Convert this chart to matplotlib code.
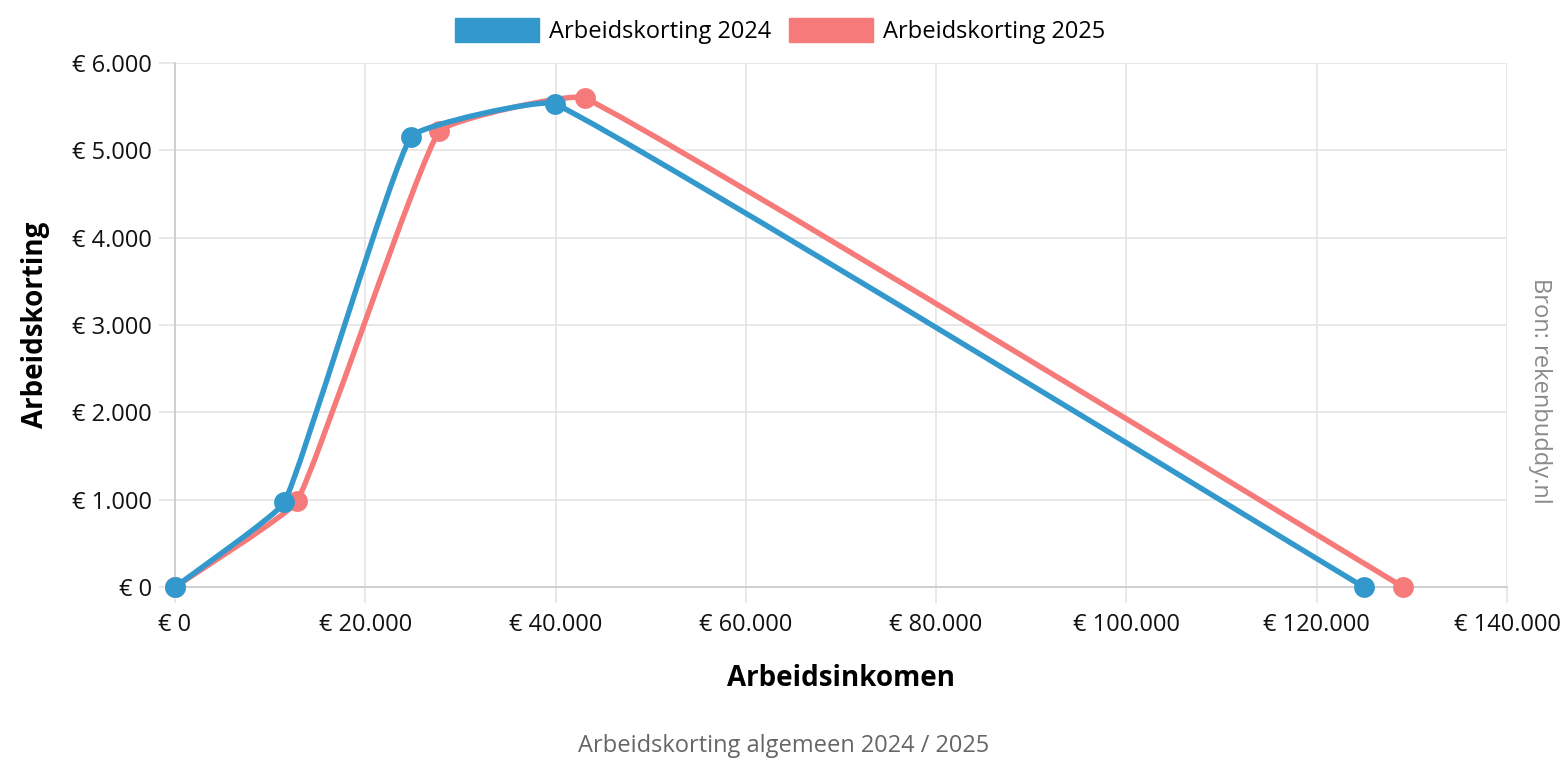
import matplotlib.pyplot as plt
import numpy as np
from matplotlib.path import Path
from matplotlib.patches import PathPatch, Patch
from matplotlib.ticker import FixedLocator, FuncFormatter

plt.rcParams['font.family'] = ['Open Sans', 'DejaVu Sans']

# data
inkomen_2024 = [0, 11490, 24820, 39957, 124934]
korting_2024 = [0, 968, 5158, 5532, 0]
inkomen_2025 = [0, 12820, 27780, 43070, 129080]
korting_2025 = [0, 980, 5220, 5599, 0]

x_ticks = [0, 20000, 40000, 60000, 80000, 100000, 120000, 140000]
y_ticks = [0, 1000, 2000, 3000, 4000, 5000, 6000]

BLUE = '#3399cc'
RED = '#f77a7a'
TENSION = 0.1

W, H = 1568, 784
fig = plt.figure(figsize=(W / 100, H / 100), dpi=100)
ax = fig.add_axes([175 / W, 1 - 587 / H, 1332 / W, 524 / H])
ax.set_xlim(0, 140000)
ax.set_ylim(0, 6000)

# pixels per data unit, the spline is worked out in screen space like chart.js does
sx = 1332 / 140000
sy = 524 / 6000


def spline_path(xs, ys, t=TENSION):
    pts = np.column_stack([np.asarray(xs) * sx, np.asarray(ys) * sy])
    n = len(pts)
    cps_prev, cps_next = [], []
    for i in range(n):
        cur = pts[i]
        prev = pts[i - 1] if i > 0 else cur
        nxt = pts[i + 1] if i < n - 1 else cur
        d01 = np.hypot(*(cur - prev))
        d12 = np.hypot(*(nxt - cur))
        tot = d01 + d12
        s01 = d01 / tot if tot else 0
        s12 = d12 / tot if tot else 0
        cps_prev.append(cur - t * s01 * (nxt - prev))
        cps_next.append(cur + t * s12 * (nxt - prev))
    verts = [pts[0]]
    codes = [Path.MOVETO]
    for i in range(n - 1):
        verts += [cps_next[i], cps_prev[i + 1], pts[i + 1]]
        codes += [Path.CURVE4] * 3
    verts = np.array(verts) / [sx, sy]
    return Path(verts, codes)


for xs, ys, col, z in [(inkomen_2025, korting_2025, RED, 3), (inkomen_2024, korting_2024, BLUE, 5)]:
    ax.add_patch(PathPatch(spline_path(xs, ys), fill=False, edgecolor=col, lw=3.9,
                           capstyle='round', joinstyle='round', zorder=z, clip_on=False))
    ax.plot(xs, ys, 'o', color=col, ms=15, mec='none', zorder=z + 0.5, clip_on=False)


def euro(v, pos=None):
    return '€ ' + f'{int(v):,}'.replace(',', '.')


ax.xaxis.set_major_locator(FixedLocator(x_ticks))
ax.yaxis.set_major_locator(FixedLocator(y_ticks))
ax.xaxis.set_major_formatter(FuncFormatter(euro))
ax.yaxis.set_major_formatter(FuncFormatter(euro))
ax.grid(True, color='#e2e2e2', lw=1.1, zorder=0)
ax.set_axisbelow(True)
ax.tick_params(axis='both', length=11.5, width=1.1, color='#e2e2e2', labelsize=17,
               labelcolor='#111111')
ax.tick_params(axis='x', pad=7)
ax.tick_params(axis='y', pad=5)
for s in ['top', 'right']:
    ax.spines[s].set_visible(False)
for s in ['left', 'bottom']:
    ax.spines[s].set_color('#cccccc')
    ax.spines[s].set_linewidth(1.3)

ax.set_xlabel('Arbeidsinkomen', fontsize=20, fontweight='bold', labelpad=20)
ax.set_ylabel('Arbeidskorting', fontsize=20, fontweight='bold', labelpad=16)

handles = [Patch(color=BLUE, label='Arbeidskorting 2024'), Patch(color=RED, label='Arbeidskorting 2025')]
fig.legend(handles=handles, loc='center', bbox_to_anchor=(0.4975, 1 - 31 / H), ncol=2, frameon=False,
           fontsize=17, handlelength=3.56, handleheight=1.2, handletextpad=0.42, columnspacing=0.76,
           borderpad=0)

fig.text(1540 / W, 1 - 391 / H, 'Bron: rekenbuddy.nl', rotation=-90, ha='center', va='center',
         fontsize=17, color='#8a8a8a')
fig.text(784 / W, 1 - 746 / H, 'Arbeidskorting algemeen 2024 / 2025', ha='center', va='center',
         fontsize=17, color='#666666')

fig.savefig('out.png', dpi=100)
